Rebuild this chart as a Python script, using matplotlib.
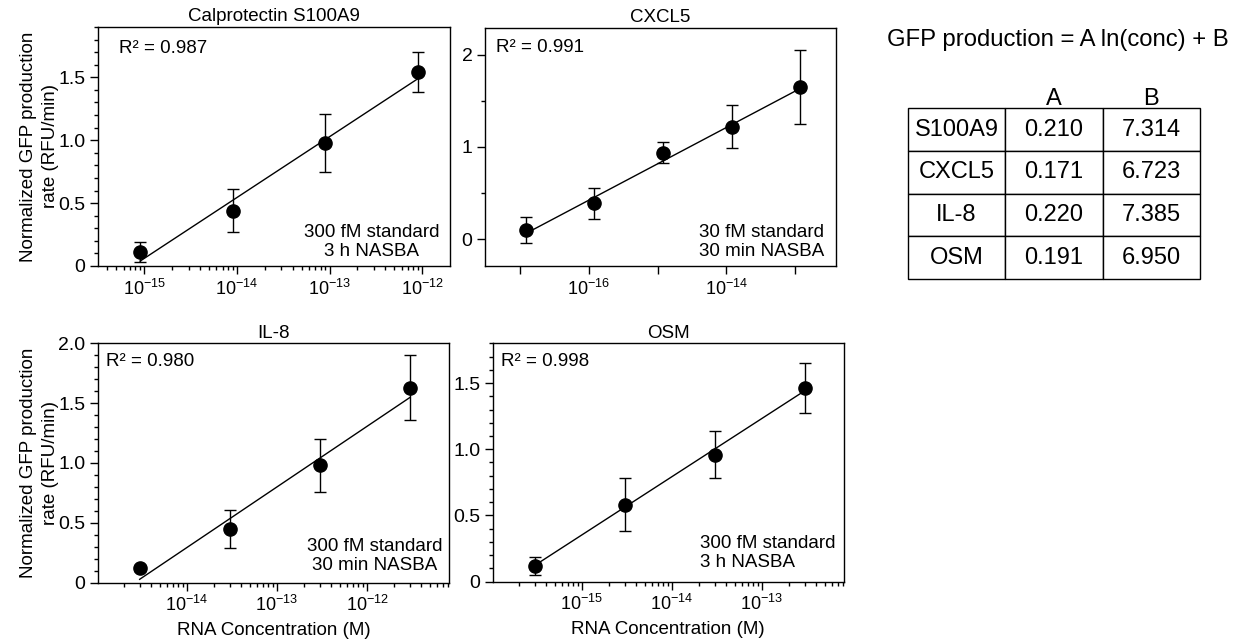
import numpy as np
import matplotlib
matplotlib.use('Agg')
import matplotlib.pyplot as plt
from matplotlib.ticker import (LogLocator, MultipleLocator, FuncFormatter,
                               NullFormatter, FixedLocator)

plt.rcParams['font.family'] = ['Liberation Sans', 'DejaVu Sans']
plt.rcParams['mathtext.fontset'] = 'custom'
plt.rcParams['mathtext.rm'] = 'Liberation Sans'
plt.rcParams['mathtext.it'] = 'Liberation Sans:italic'
plt.rcParams['mathtext.bf'] = 'Liberation Sans:bold'

# Data
s100a9_conc = [9e-16, 9e-15, 9e-14, 9e-13]
s100a9_rate = [0.11, 0.44, 0.98, 1.54]
s100a9_err = [0.08, 0.17, 0.23, 0.16]

cxcl5_conc = [1.2e-17, 1.2e-16, 1.2e-15, 1.2e-14, 1.2e-13]
cxcl5_rate = [0.10, 0.39, 0.94, 1.22, 1.65]
cxcl5_err = [0.14, 0.17, 0.11, 0.23, 0.40]

il8_conc = [3e-15, 3e-14, 3e-13, 3e-12]
il8_rate = [0.12, 0.45, 0.98, 1.63]
il8_err = [0.02, 0.16, 0.22, 0.27]

osm_conc = [3e-16, 3e-15, 3e-14, 3e-13]
osm_rate = [0.12, 0.58, 0.96, 1.46]
osm_err = [0.07, 0.20, 0.18, 0.19]

# Fit parameters: GFP production = A ln(conc) + B
marker_names = ['S100A9', 'CXCL5', 'IL-8', 'OSM']
coef_A = [0.210, 0.171, 0.220, 0.191]
coef_B = [7.314, 6.723, 7.385, 6.950]
r_squared = [0.987, 0.991, 0.980, 0.998]

FS = 13.5
ylabel_text = 'Normalized GFP production\nrate (RFU/min)'
xlabel_text = 'RNA Concentration (M)'


def ytick_fmt(decimals):
    def f(v, pos):
        if abs(v) < 1e-9:
            return '0'
        return f'{v:.{decimals}f}'
    return FuncFormatter(f)


def draw_panel(ax, conc, rate, err, A, B, title, note, note_pos, note_ha):
    conc = np.array(conc)
    xfit = np.array([conc[0], conc[-1]])
    ax.plot(xfit, A * np.log(xfit) + B, color='black', lw=1.0, zorder=2)
    ax.errorbar(conc, rate, yerr=err, fmt='o', color='black', ms=9.5,
                capsize=4, elinewidth=1.0, capthick=1.0, zorder=3)
    ax.set_xscale('log')
    ax.set_title(title, fontsize=FS, pad=4)
    ax.text(note_pos[0], note_pos[1], note, transform=ax.transAxes,
            fontsize=FS, ha=note_ha, va='center', multialignment=note_ha,
            linespacing=1.15)
    ax.tick_params(which='major', length=6, width=1, direction='out', pad=3)
    ax.tick_params(axis='x', which='major', labelsize=13)
    ax.tick_params(axis='y', which='major', labelsize=14)
    ax.tick_params(which='minor', length=3, width=1, direction='out')
    for s in ax.spines.values():
        s.set_linewidth(1.0)
    return ax


def log_ticks(ax):
    ax.xaxis.set_major_locator(LogLocator(base=10, numticks=20))
    ax.xaxis.set_minor_locator(LogLocator(base=10, subs=np.arange(2, 10), numticks=20))
    ax.xaxis.set_minor_formatter(NullFormatter())


fig = plt.figure(figsize=(12.36, 6.42), dpi=100)

# Calprotectin S100A9
ax1 = fig.add_axes([0.0793, 0.5857, 0.2848, 0.3723])
draw_panel(ax1, s100a9_conc, s100a9_rate, s100a9_err, coef_A[0], coef_B[0],
           'Calprotectin S100A9', '300 fM standard\n3 h NASBA',
           (0.778, 0.10), 'center')
ax1.text(0.06, 0.91, f'R² = {r_squared[0]:.3f}', transform=ax1.transAxes,
         fontsize=FS, va='center')
ax1.set_xlim(10 ** -15.5, 10 ** -11.7)
ax1.set_ylim(0, 1.9)
ax1.yaxis.set_major_locator(MultipleLocator(0.5))
ax1.yaxis.set_minor_locator(MultipleLocator(0.1))
ax1.yaxis.set_major_formatter(ytick_fmt(1))
log_ticks(ax1)
ax1.set_ylabel(ylabel_text, fontsize=FS, linespacing=1.4)
ax1.yaxis.set_label_coords(-0.11, 0.5)

# CXCL5
ax2 = fig.add_axes([0.3924, 0.5857, 0.2836, 0.3707])
draw_panel(ax2, cxcl5_conc, cxcl5_rate, cxcl5_err, coef_A[1], coef_B[1],
           'CXCL5', '30 fM standard\n30 min NASBA', (0.789, 0.10), 'center')
ax2.text(0.03, 0.916, f'R² = {r_squared[1]:.3f}', transform=ax2.transAxes,
         fontsize=FS, va='center')
ax2.set_xlim(10 ** -17.51, 10 ** -12.41)
ax2.set_ylim(-0.29, 2.29)
ax2.yaxis.set_major_locator(MultipleLocator(1))
ax2.yaxis.set_minor_locator(MultipleLocator(0.5))
ax2.yaxis.set_major_formatter(ytick_fmt(0))
ax2.xaxis.set_major_locator(FixedLocator([1e-16, 1e-14]))
ax2.xaxis.set_minor_locator(FixedLocator([1e-17, 1e-15, 1e-13]))
ax2.xaxis.set_minor_formatter(NullFormatter())
ax2.tick_params(axis='x', which='minor', length=6)

# IL-8
ax3 = fig.add_axes([0.0793, 0.0924, 0.2840, 0.3729])
draw_panel(ax3, il8_conc, il8_rate, il8_err, coef_A[2], coef_B[2],
           'IL-8', '300 fM standard\n30 min NASBA', (0.788, 0.11), 'center')
ax3.text(0.023, 0.923, f'R² = {r_squared[2]:.3f}', transform=ax3.transAxes,
         fontsize=FS, va='center')
ax3.set_xlim(10 ** -14.985, 10 ** -11.09)
ax3.set_ylim(0, 2.0)
ax3.yaxis.set_major_locator(MultipleLocator(0.5))
ax3.yaxis.set_minor_locator(MultipleLocator(0.1))
ax3.yaxis.set_major_formatter(ytick_fmt(1))
log_ticks(ax3)
ax3.set_ylabel(ylabel_text, fontsize=FS, linespacing=1.4)
ax3.yaxis.set_label_coords(-0.11, 0.5)
ax3.set_xlabel(xlabel_text, fontsize=FS, labelpad=5)

# OSM
ax4 = fig.add_axes([0.3986, 0.0939, 0.2842, 0.3714])
draw_panel(ax4, osm_conc, osm_rate, osm_err, coef_A[3], coef_B[3],
           'OSM', '300 fM standard\n3 h NASBA', (0.589, 0.122), 'left')
ax4.text(0.024, 0.922, f'R² = {r_squared[3]:.3f}', transform=ax4.transAxes,
         fontsize=FS, va='center')
ax4.set_xlim(10 ** -15.99, 10 ** -12.09)
ax4.set_ylim(0, 1.8)
ax4.yaxis.set_major_locator(MultipleLocator(0.5))
ax4.yaxis.set_minor_locator(MultipleLocator(0.1))
ax4.yaxis.set_major_formatter(ytick_fmt(1))
log_ticks(ax4)
ax4.set_xlabel(xlabel_text, fontsize=FS, labelpad=5)

# Equation and coefficient table
fig.text(0.856, 0.9377, 'GFP production = A ln(conc) + B', fontsize=17.2,
         ha='center', va='center')

tax = fig.add_axes([0.7344, 0.5654, 0.2365, 0.2659])
tax.axis('off')
cell_text = [[name, f'{a:.3f}', f'{b:.3f}']
             for name, a, b in zip(marker_names, coef_A, coef_B)]
tbl = tax.table(cellText=cell_text, cellLoc='center', bbox=[0, 0, 1, 1])
tbl.auto_set_font_size(False)
tbl.set_fontsize(17)
for cell in tbl.get_celld().values():
    cell.set_linewidth(1.0)
tax.text(0.5, 1.055, 'A', transform=tax.transAxes, fontsize=17,
         ha='center', va='center')
tax.text(5 / 6, 1.055, 'B', transform=tax.transAxes, fontsize=17,
         ha='center', va='center')

fig.savefig('out.png', dpi=100)
